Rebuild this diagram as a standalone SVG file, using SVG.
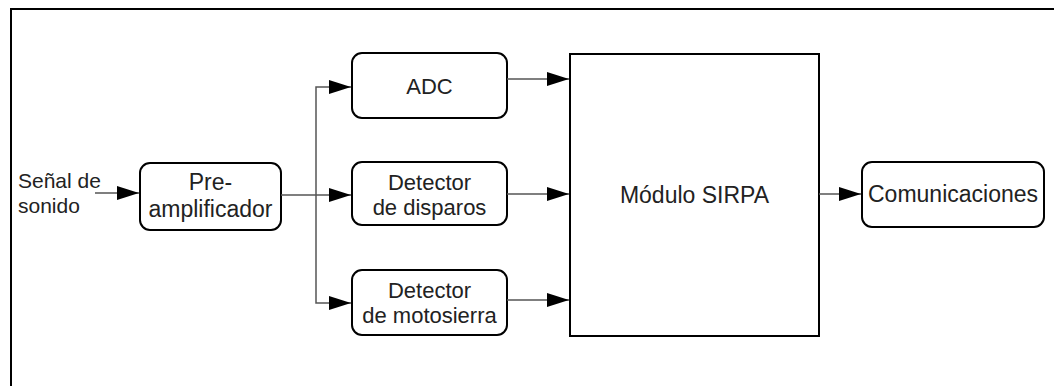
<svg xmlns="http://www.w3.org/2000/svg" width="1054" height="386" viewBox="0 0 1054 386">
<style>
.box{fill:#fff;stroke:#000;stroke-width:2}
.t{font-family:"Liberation Sans",Arial,sans-serif;font-size:22px;fill:#222;text-anchor:middle}
.l{font-size:23px}
.c{fill:none;stroke:#555;stroke-width:1.5}
</style>
<defs>
<marker id="ah" viewBox="0 0 22 14" refX="22" refY="7" markerWidth="22" markerHeight="14" markerUnits="userSpaceOnUse" orient="auto">
<path d="M0,0 L22,7 L0,14 Z" fill="#000"/>
</marker>
</defs>
<rect width="1054" height="386" fill="#fff"/>
<rect id="frame" x="11" y="9" width="1100" height="500" fill="none" stroke="#000" stroke-width="2"/>
<g id="input">
<text class="t" style="text-anchor:start;font-size:21px" x="18" y="188">Señal de</text>
<text class="t" style="text-anchor:start;font-size:21px" x="18" y="213">sonido</text>
</g>
<g id="preamp">
<rect class="box" x="140" y="163" width="141" height="67" rx="10"/>
<text class="t l" x="210.5" y="190">Pre-</text>
<text class="t l" x="210.5" y="217">amplificador</text>
</g>
<g id="adc">
<rect class="box" x="352" y="53" width="155" height="65" rx="10"/>
<text class="t" x="429.5" y="94">ADC</text>
</g>
<g id="disparos">
<rect class="box" x="352" y="162" width="155" height="63" rx="10"/>
<text class="t" x="429.5" y="190">Detector</text>
<text class="t" x="429.5" y="215">de disparos</text>
</g>
<g id="motosierra">
<rect class="box" x="352" y="270" width="155" height="65" rx="10"/>
<text class="t" x="429.5" y="298">Detector</text>
<text class="t" x="429.5" y="323">de motosierra</text>
</g>
<g id="sirpa">
<rect class="box" x="570" y="54" width="249" height="282"/>
<text class="t l" x="694.5" y="203">Módulo SIRPA</text>
</g>
<g id="comunicaciones">
<rect class="box" x="862" y="162" width="182" height="65" rx="10"/>
<text class="t l" x="953" y="202">Comunicaciones</text>
</g>
<g id="connectors">
<path class="c" d="M95,193 H139" marker-end="url(#ah)"/>
<path class="c" d="M281,195 H316"/>
<path class="c" d="M316,195 V87 H351" marker-end="url(#ah)"/>
<path class="c" d="M316,195 H351" marker-end="url(#ah)"/>
<path class="c" d="M316,195 V303 H351" marker-end="url(#ah)"/>
<path class="c" d="M507,79 H569" marker-end="url(#ah)"/>
<path class="c" d="M507,194 H569" marker-end="url(#ah)"/>
<path class="c" d="M507,300 H569" marker-end="url(#ah)"/>
<path class="c" d="M819,194 H861" marker-end="url(#ah)"/>
</g>
</svg>
